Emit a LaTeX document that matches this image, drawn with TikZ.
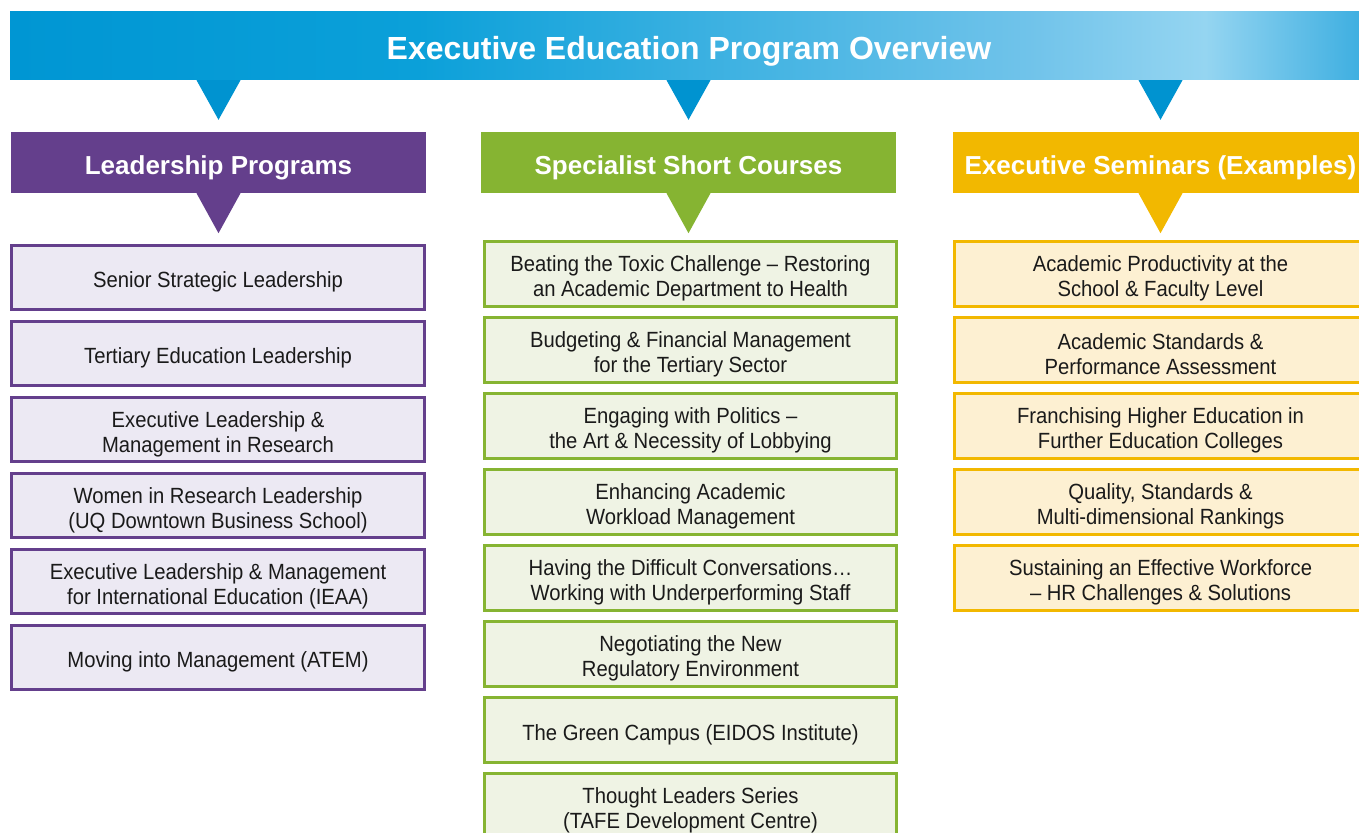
\documentclass[tikz,border=0pt]{standalone}
\usepackage{fontspec}
\setmainfont{Liberation Sans}[FakeStretch=0.92]
\newfontfamily\colfont{Liberation Sans}
\usetikzlibrary{calc}
\newcommand{\fstrut}{\rule{0pt}{25pt}}
\definecolor{hA}{RGB}{0,150,211}
\definecolor{hB}{RGB}{11,160,217}
\definecolor{hC}{RGB}{112,195,234}
\definecolor{hD}{RGB}{149,213,241}
\definecolor{hE}{RGB}{58,173,224}
\definecolor{triB}{RGB}{0,147,208}
\definecolor{pur}{RGB}{100,63,140}
\definecolor{purF}{RGB}{236,233,243}
\definecolor{grn}{RGB}{134,180,50}
\definecolor{grnF}{RGB}{239,243,228}
\definecolor{yel}{RGB}{242,184,0}
\definecolor{yelF}{RGB}{253,240,210}
\definecolor{ink}{RGB}{26,26,26}
\pgfdeclarehorizontalshading{hdrshade}{100bp}{color(0bp)=(hA); color(25bp)=(hA); color(40bp)=(hB); color(62.5bp)=(hC); color(69bp)=(hD); color(75bp)=(hE); color(100bp)=(hE)}
\begin{document}
\begin{tikzpicture}[x=1pt,y=-1pt,
  hdrbox/.style={shade, shading=hdrshade, minimum width=1358pt, minimum height=68pt, inner sep=0pt, text=white, font=\colfont\bfseries\fontsize{32}{36}\selectfont, execute at begin node={\rule{0pt}{33pt}}},
  colhd/.style={minimum width=415pt, minimum height=61pt, inner sep=0pt, text=white, font=\colfont\bfseries\fontsize{26}{30}\selectfont, execute at begin node={\rule{0pt}{29pt}}},
  item/.style={draw, line width=3pt, minimum width=412.5pt, minimum height=64.5pt, inner sep=0pt, align=center, text=ink, font=\fontsize{22}{25}\selectfont},
  pitem/.style={item, draw=pur, fill=purF},
  gitem/.style={item, draw=grn, fill=grnF},
  yitem/.style={item, draw=yel, fill=yelF}]
\useasboundingbox (0,0) rectangle (1359,832);
\clip (0,0) rectangle (1359,832);
\fill[white] (0,0) rectangle (1359,832);

\node[hdrbox] (hdr) at (689,46) {Executive Education Program Overview};

\node[colhd, fill=pur] (lp) at (218.5,162.5) {Leadership Programs};
\node[colhd, fill=grn] (sc) at (688.5,162.5) {Specialist Short Courses};
\node[colhd, fill=yel] (es) at (1160.5,162.5) {Executive Seminars (Examples)};

% header triangles
\foreach \c in {lp,sc,es}{
  \fill[triB] ($(hdr.south -| \c.north)+(-22,0)$) -- ($(hdr.south -| \c.north)+(22,0)$) -- ($(\c.north)+(0,-12)$) -- cycle;
}
\fill[pur] ($(lp.south)+(-22,0)$) -- ($(lp.south)+(22,0)$) -- ($(lp.south)+(0,40)$) -- cycle;
\fill[grn] ($(sc.south)+(-22,0)$) -- ($(sc.south)+(22,0)$) -- ($(sc.south)+(0,40)$) -- cycle;
\fill[yel] ($(es.south)+(-22,0)$) -- ($(es.south)+(22,0)$) -- ($(es.south)+(0,40)$) -- cycle;

% leadership programs
\node[pitem] (p1) at (218,277.5) {\fstrut Senior Strategic Leadership};
\node[pitem] (p2) at (218,353.5) {\fstrut Tertiary Education Leadership};
\node[pitem] (p3) at (218,429.5) {\fstrut Executive Leadership \&\\Management in Research};
\node[pitem] (p4) at (218,505.5) {\fstrut Women in Research Leadership\\(UQ Downtown Business School)};
\node[pitem] (p5) at (218,581.5) {\fstrut Executive Leadership \& Management\\for International Education (IEAA)};
\node[pitem] (p6) at (218,657.5) {\fstrut Moving into Management (ATEM)};

% specialist short courses
\node[gitem] (g1) at (690.5,274) {\fstrut Beating the Toxic Challenge – Restoring\\an Academic Department to Health};
\node[gitem] (g2) at (690.5,350) {\fstrut Budgeting \& Financial Management\\for the Tertiary Sector};
\node[gitem] (g3) at (690.5,426) {\fstrut Engaging with Politics –\\the Art \& Necessity of Lobbying};
\node[gitem] (g4) at (690.5,502) {\fstrut Enhancing Academic\\Workload Management};
\node[gitem] (g5) at (690.5,578) {\fstrut Having the Difficult Conversations…\\Working with Underperforming Staff};
\node[gitem] (g6) at (690.5,654) {\fstrut Negotiating the New\\Regulatory Environment};
\node[gitem] (g7) at (690.5,730) {\fstrut The Green Campus (EIDOS Institute)};
\node[gitem] (g8) at (690.5,806) {\fstrut Thought Leaders Series\\(TAFE Development Centre)};

% executive seminars
\node[yitem] (y1) at (1160.5,274) {\fstrut Academic Productivity at the\\School \& Faculty Level};
\node[yitem] (y2) at (1160.5,350) {\fstrut Academic Standards \&\\Performance Assessment};
\node[yitem] (y3) at (1160.5,426) {\fstrut Franchising Higher Education in\\Further Education Colleges};
\node[yitem] (y4) at (1160.5,502) {\fstrut Quality, Standards \&\\Multi-dimensional Rankings};
\node[yitem] (y5) at (1160.5,578) {\fstrut Sustaining an Effective Workforce\\– HR Challenges \& Solutions};
\end{tikzpicture}
\end{document}
